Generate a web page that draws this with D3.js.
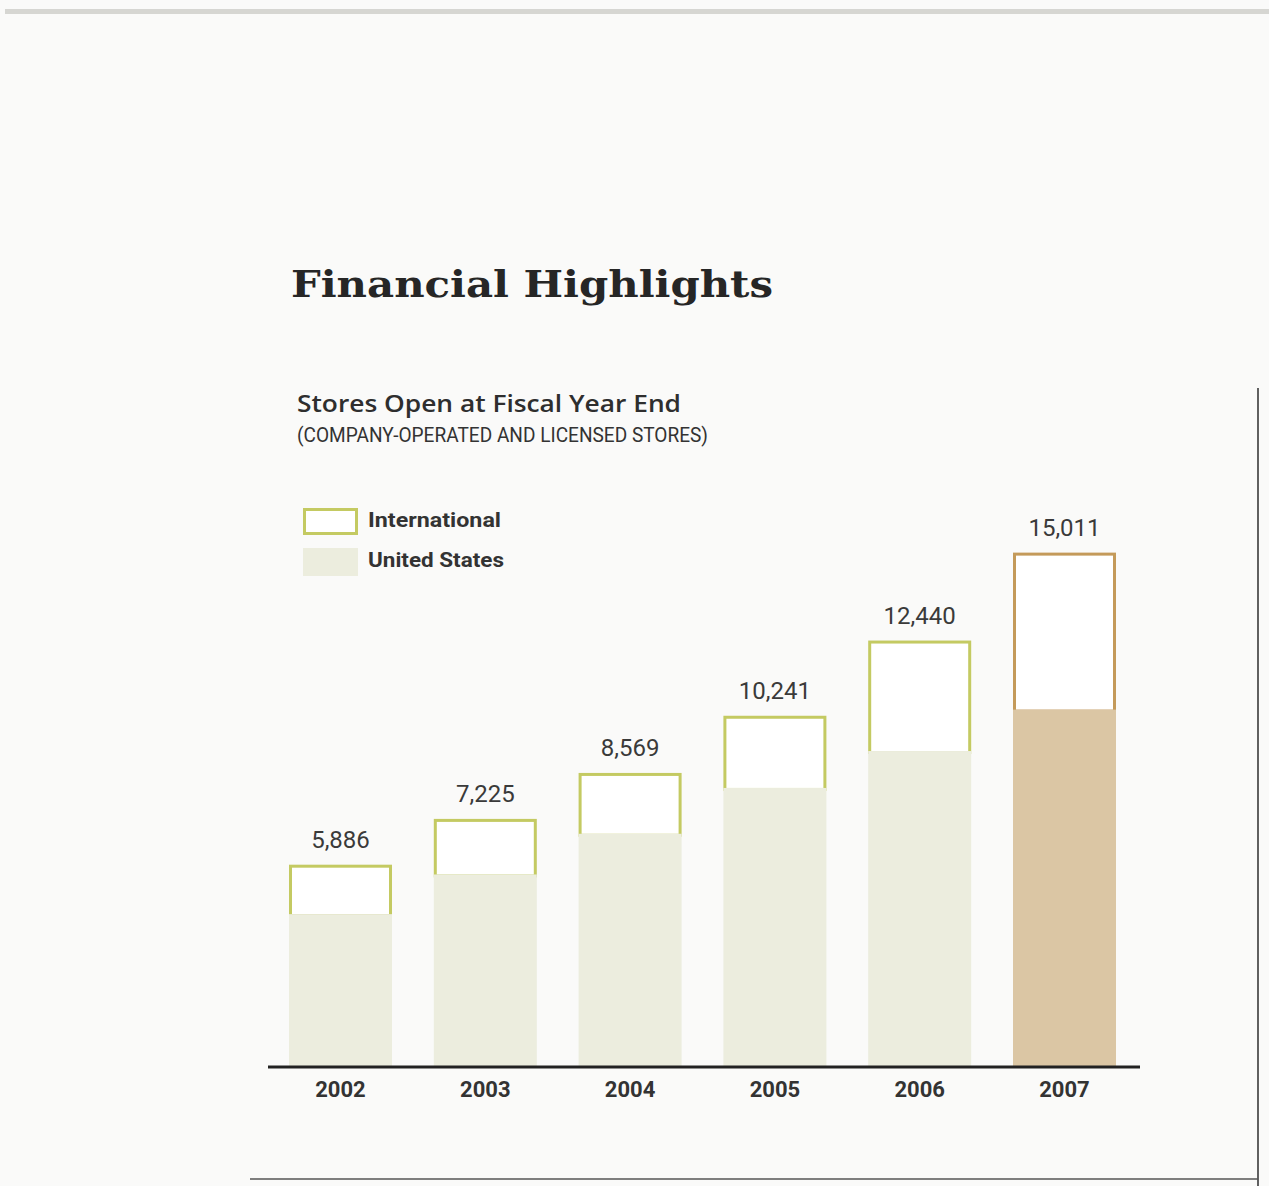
<!DOCTYPE html>
<html>
<head>
<meta charset="utf-8">
<script src="https://cdn.jsdelivr.net/npm/d3@7"></script>
<style>
  html, body { margin: 0; padding: 0; background: #fafaf9; }
  svg { display: block; }
</style>
</head>
<body>
<script>
// Stores open at fiscal year end, split by region
const years = ["2002", "2003", "2004", "2005", "2006", "2007"];
const usStores = [4440, 5600, 6790, 8130, 9210, 10420];
const intlStores = [1446, 1625, 1779, 2111, 3230, 4591];
const totalLabels = ["5,886", "7,225", "8,569", "10,241", "12,440", "15,011"];
const legendLabels = ["International", "United States"];

const W = 1269, H = 1186;
const svg = d3.select("body").append("svg")
  .attr("width", W).attr("height", H);

svg.append("rect").attr("width", W).attr("height", H).attr("fill", "#fafaf9");

// page rules
svg.append("rect").attr("x", 5).attr("y", 9).attr("width", W - 5).attr("height", 5)
  .attr("fill", "#d6d6d2");
svg.append("line").attr("x1", 1258).attr("x2", 1258).attr("y1", 388).attr("y2", H)
  .attr("stroke", "#3a3a3a").attr("stroke-width", 1.6);
svg.append("line").attr("x1", 250).attr("x2", 1258).attr("y1", 1179).attr("y2", 1179)
  .attr("stroke", "#555").attr("stroke-width", 1.5);

// headings
svg.append("text").attr("x", 291).attr("y", 297)
  .attr("font-family", "'DejaVu Serif', 'Liberation Serif', serif")
  .attr("font-weight", "bold").attr("font-size", 37).attr("fill", "#262626")
  .attr("textLength", 482).attr("lengthAdjust", "spacingAndGlyphs")
  .text("Financial Highlights");

svg.append("text").attr("x", 297).attr("y", 412)
  .attr("font-family", "'Open Sans', 'Noto Sans', sans-serif")
  .attr("font-weight", 600).attr("font-size", 24).attr("fill", "#2e2e2e")
  .attr("textLength", 384).attr("lengthAdjust", "spacingAndGlyphs")
  .text("Stores Open at Fiscal Year End");

svg.append("text").attr("x", 297).attr("y", 442)
  .attr("font-family", "Roboto, 'Liberation Sans', sans-serif")
  .attr("font-weight", 400).attr("font-size", 20.5).attr("fill", "#333")
  .attr("textLength", 411).attr("lengthAdjust", "spacingAndGlyphs")
  .text("(COMPANY-OPERATED AND LICENSED STORES)");

// legend
const green = "#c4ca62", usFill = "#ecedde";
const tanLine = "#c49a5a", tanFill = "#dbc6a4";
const lg = svg.append("g");
lg.append("rect").attr("x", 304.5).attr("y", 509.5).attr("width", 52).attr("height", 24)
  .attr("fill", "#fff").attr("stroke", green).attr("stroke-width", 3);
lg.append("rect").attr("x", 303).attr("y", 548).attr("width", 55).attr("height", 28)
  .attr("fill", usFill);
lg.selectAll("text.leg").data(legendLabels).join("text")
  .attr("class", "leg")
  .attr("x", 368).attr("y", (d, i) => 527 + i * 40)
  .attr("font-family", "Roboto, 'Liberation Sans', sans-serif")
  .attr("font-weight", "bold").attr("font-size", 21).attr("fill", "#333")
  .attr("textLength", (d, i) => i === 0 ? 133 : 136)
  .attr("lengthAdjust", "spacingAndGlyphs")
  .text(d => d);

// scales
const x = d3.scaleBand().domain(years).range([289, 1116]).paddingInner(0.2887).paddingOuter(0);
const y = d3.scaleLinear().domain([0, 15000]).range([1066, 553]);

const data = years.map((yr, i) => ({
  year: yr, us: usStores[i], intl: intlStores[i],
  total: usStores[i] + intlStores[i], label: totalLabels[i],
  last: i === years.length - 1
}));

const bars = svg.append("g").selectAll("g").data(data).join("g");

// international segment: open box on top of the US block
bars.append("rect")
  .attr("x", d => x(d.year) + 1.5)
  .attr("y", d => y(d.total) + 1.5)
  .attr("width", x.bandwidth() - 3)
  .attr("height", d => y(d.us) - y(d.total))
  .attr("fill", "#ffffff")
  .attr("stroke", d => d.last ? tanLine : green)
  .attr("stroke-width", 3);

// US segment
bars.append("rect")
  .attr("x", d => x(d.year))
  .attr("y", d => y(d.us))
  .attr("width", x.bandwidth())
  .attr("height", d => y(0) - y(d.us))
  .attr("fill", d => d.last ? tanFill : usFill);

// total labels
bars.append("text")
  .attr("x", d => x(d.year) + x.bandwidth() / 2)
  .attr("y", d => y(d.total) - 17)
  .attr("text-anchor", "middle")
  .attr("font-family", "Roboto, 'Liberation Sans', sans-serif")
  .attr("font-weight", 400).attr("font-size", 24).attr("fill", "#3a3a3a")
  .text(d => d.label);

// baseline axis
const axis = svg.append("g").attr("transform", `translate(0,${y(0) + 1})`)
  .call(d3.axisBottom(x).tickSize(0).tickPadding(14));
axis.select(".domain").remove();
axis.append("line").attr("x1", 268).attr("x2", 1140).attr("y1", 0).attr("y2", 0)
  .attr("stroke", "#222").attr("stroke-width", 3);
axis.selectAll(".tick text")
  .attr("font-family", "Roboto, 'Liberation Sans', sans-serif")
  .attr("font-weight", "bold").attr("font-size", 22).attr("fill", "#333");
</script>
</body>
</html>
